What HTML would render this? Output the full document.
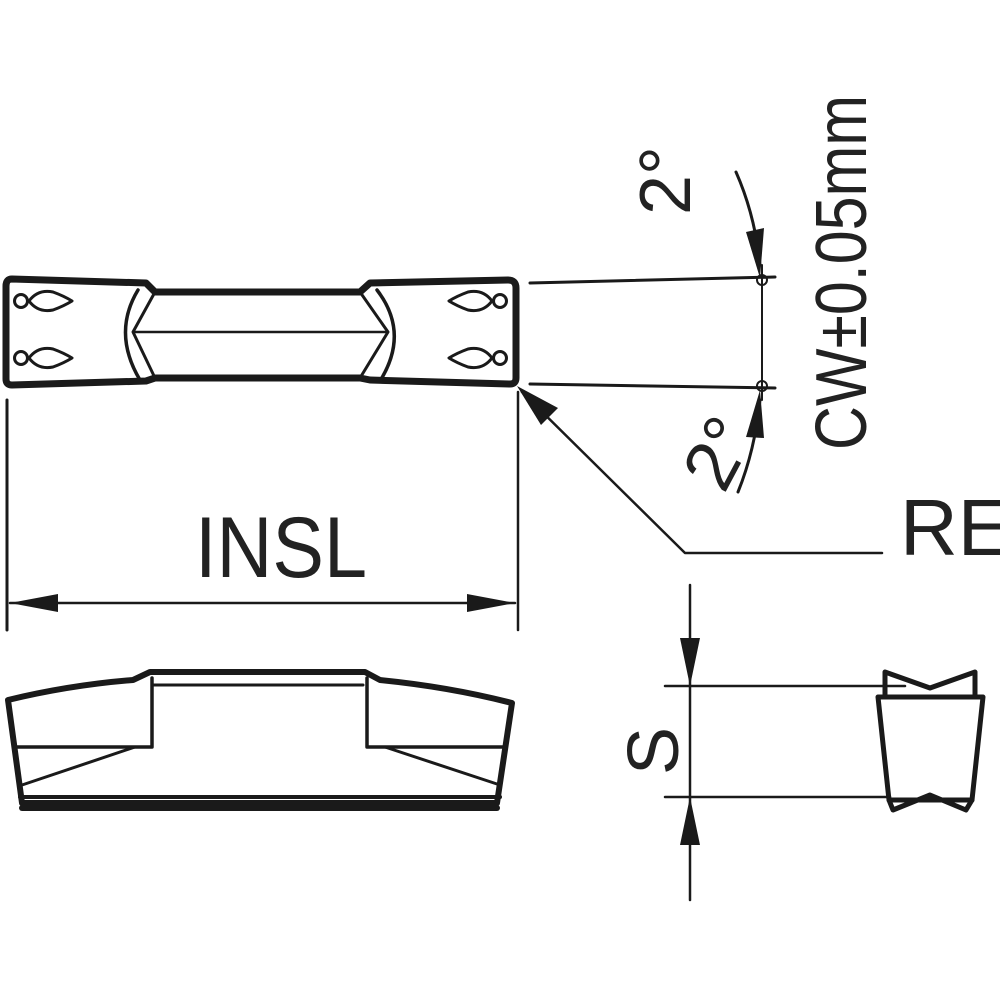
<!DOCTYPE html>
<html><head><meta charset="utf-8"><style>
html,body{margin:0;padding:0;background:#fff;}
svg{display:block}
text{font-family:"Liberation Sans",sans-serif;fill:#222}
</style></head><body>
<svg width="1000" height="1000" viewBox="0 0 1000 1000" xmlns="http://www.w3.org/2000/svg">
<g fill="none" stroke="#1a1a1a" stroke-linejoin="round" stroke-linecap="round">
<!-- top view outline -->
<path d="M12,279 L146,283 L155,292 L360,292 L370,283 L508,280 Q516,280 516,288 L516,378 Q516,384 510,384 L370,380 L360,378 L155,378 L146,381 L12,385 Q6,385 6,379 L6,286 Q6,279 12,279 Z" stroke-width="7"/>
<path d="M155,292 L133,332 L155,378" stroke-width="3"/>
<path d="M360,292 L388,332 L360,378" stroke-width="3"/>
<path d="M138,290 Q112,333 140,380" stroke-width="3.5"/>
<path d="M377,290 Q410,333 380,381" stroke-width="3.5"/>
<line x1="135" y1="332" x2="386" y2="332" stroke-width="2.5"/>
<!-- holes -->
<g stroke-width="3">
<circle cx="21" cy="301" r="6.5"/><path d="M29,301 Q38,289 53,292 Q64,296 72,301 Q64,306 53,310 Q38,313 29,301Z"/>
<circle cx="21" cy="358" r="6.5"/><path d="M29,358 Q38,346 53,349 Q64,353 72,358 Q64,363 53,367 Q38,370 29,358Z"/>
<circle cx="500" cy="301" r="6.5"/><path d="M492,301 Q483,289 468,292 Q457,296 449,301 Q457,306 468,310 Q483,313 492,301Z"/>
<circle cx="500" cy="358" r="6.5"/><path d="M492,358 Q483,346 468,349 Q457,353 449,358 Q457,363 468,367 Q483,370 492,358Z"/>
</g>
<!-- INSL dimension -->
<line x1="7" y1="400" x2="7" y2="630" stroke-width="3"/>
<line x1="518" y1="392" x2="518" y2="630" stroke-width="2.5"/>
<line x1="10" y1="603" x2="515" y2="603" stroke-width="2.5"/>
<path d="M10,603 L58,594 L58,612Z M515,603 L467,594 L467,612Z" fill="#1a1a1a" stroke="none"/>
<!-- RE leader -->
<path d="M522,392 L685,553 L882,553" stroke-width="2.5"/>
<path d="M517,386 L558,408 L541,425Z" fill="#1a1a1a" stroke="none"/>
<!-- CW -->
<path d="M530,283 L775,277" stroke-width="3"/>
<path d="M530,384 L775,388" stroke-width="3"/>
<line x1="762" y1="265" x2="762" y2="400" stroke-width="2"/>
<circle cx="762" cy="280" r="5" stroke-width="2"/>
<circle cx="762" cy="386" r="5" stroke-width="2"/>
<path d="M736,172 Q755,215 760,265" stroke-width="3"/>
<path d="M760,278 L746,232 L764,228Z" fill="#1a1a1a" stroke="none"/>
<path d="M738,492 Q755,450 760,400" stroke-width="3"/>
<path d="M760,390 L746,437 L764,438Z" fill="#1a1a1a" stroke="none"/>
<!-- bottom view -->
<path d="M8,700 Q70,685 133,680 L150,672 L365,672 L380,680 Q450,687 512,703 L497,803 L22,803 Z" stroke-width="6"/>
<line x1="152" y1="685" x2="363" y2="685" stroke-width="3"/>
<path d="M152,678 L152,747 L135,747 L15,747" stroke-width="3.5"/>
<path d="M135,747 L22,785" stroke-width="3"/>
<path d="M367,678 L367,747 L385,747 L505,747" stroke-width="3.5"/>
<path d="M385,747 L500,785" stroke-width="3"/>
<line x1="20" y1="797" x2="500" y2="797" stroke-width="4"/>
<line x1="22" y1="808" x2="497" y2="808" stroke-width="6"/>
<!-- S dimension -->
<line x1="690" y1="585" x2="690" y2="900" stroke-width="2.5"/>
<path d="M690,686 L680,638 L700,638Z M690,797 L680,845 L700,845Z" fill="#1a1a1a" stroke="none"/>
<line x1="665" y1="686" x2="905" y2="686" stroke-width="2.5"/>
<line x1="665" y1="797" x2="890" y2="797" stroke-width="2.5"/>
<!-- side profile -->
<path d="M885,695 L885,672 L930,688 L975,672 L975,695" stroke-width="5"/>
<path d="M878,697 L983,697 L972,800 L889,800 Z" stroke-width="5"/>
<path d="M889,800 L893,810 L930,795 L966,810 L972,800" stroke-width="5"/>
</g>
<text x="195" y="577" font-size="86" textLength="172" lengthAdjust="spacingAndGlyphs">INSL</text>
<text x="900" y="555" font-size="80">RE</text>
<text transform="translate(866,450) rotate(-90)" font-size="72" textLength="355" lengthAdjust="spacingAndGlyphs">CW±0.05mm</text>
<text transform="translate(690,215) rotate(-90)" font-size="72">2°</text>
<text transform="translate(724,495) rotate(-62)" font-size="72">2°</text>
<text transform="translate(678,775) rotate(-90)" font-size="72">S</text>
</svg>
</body></html>
